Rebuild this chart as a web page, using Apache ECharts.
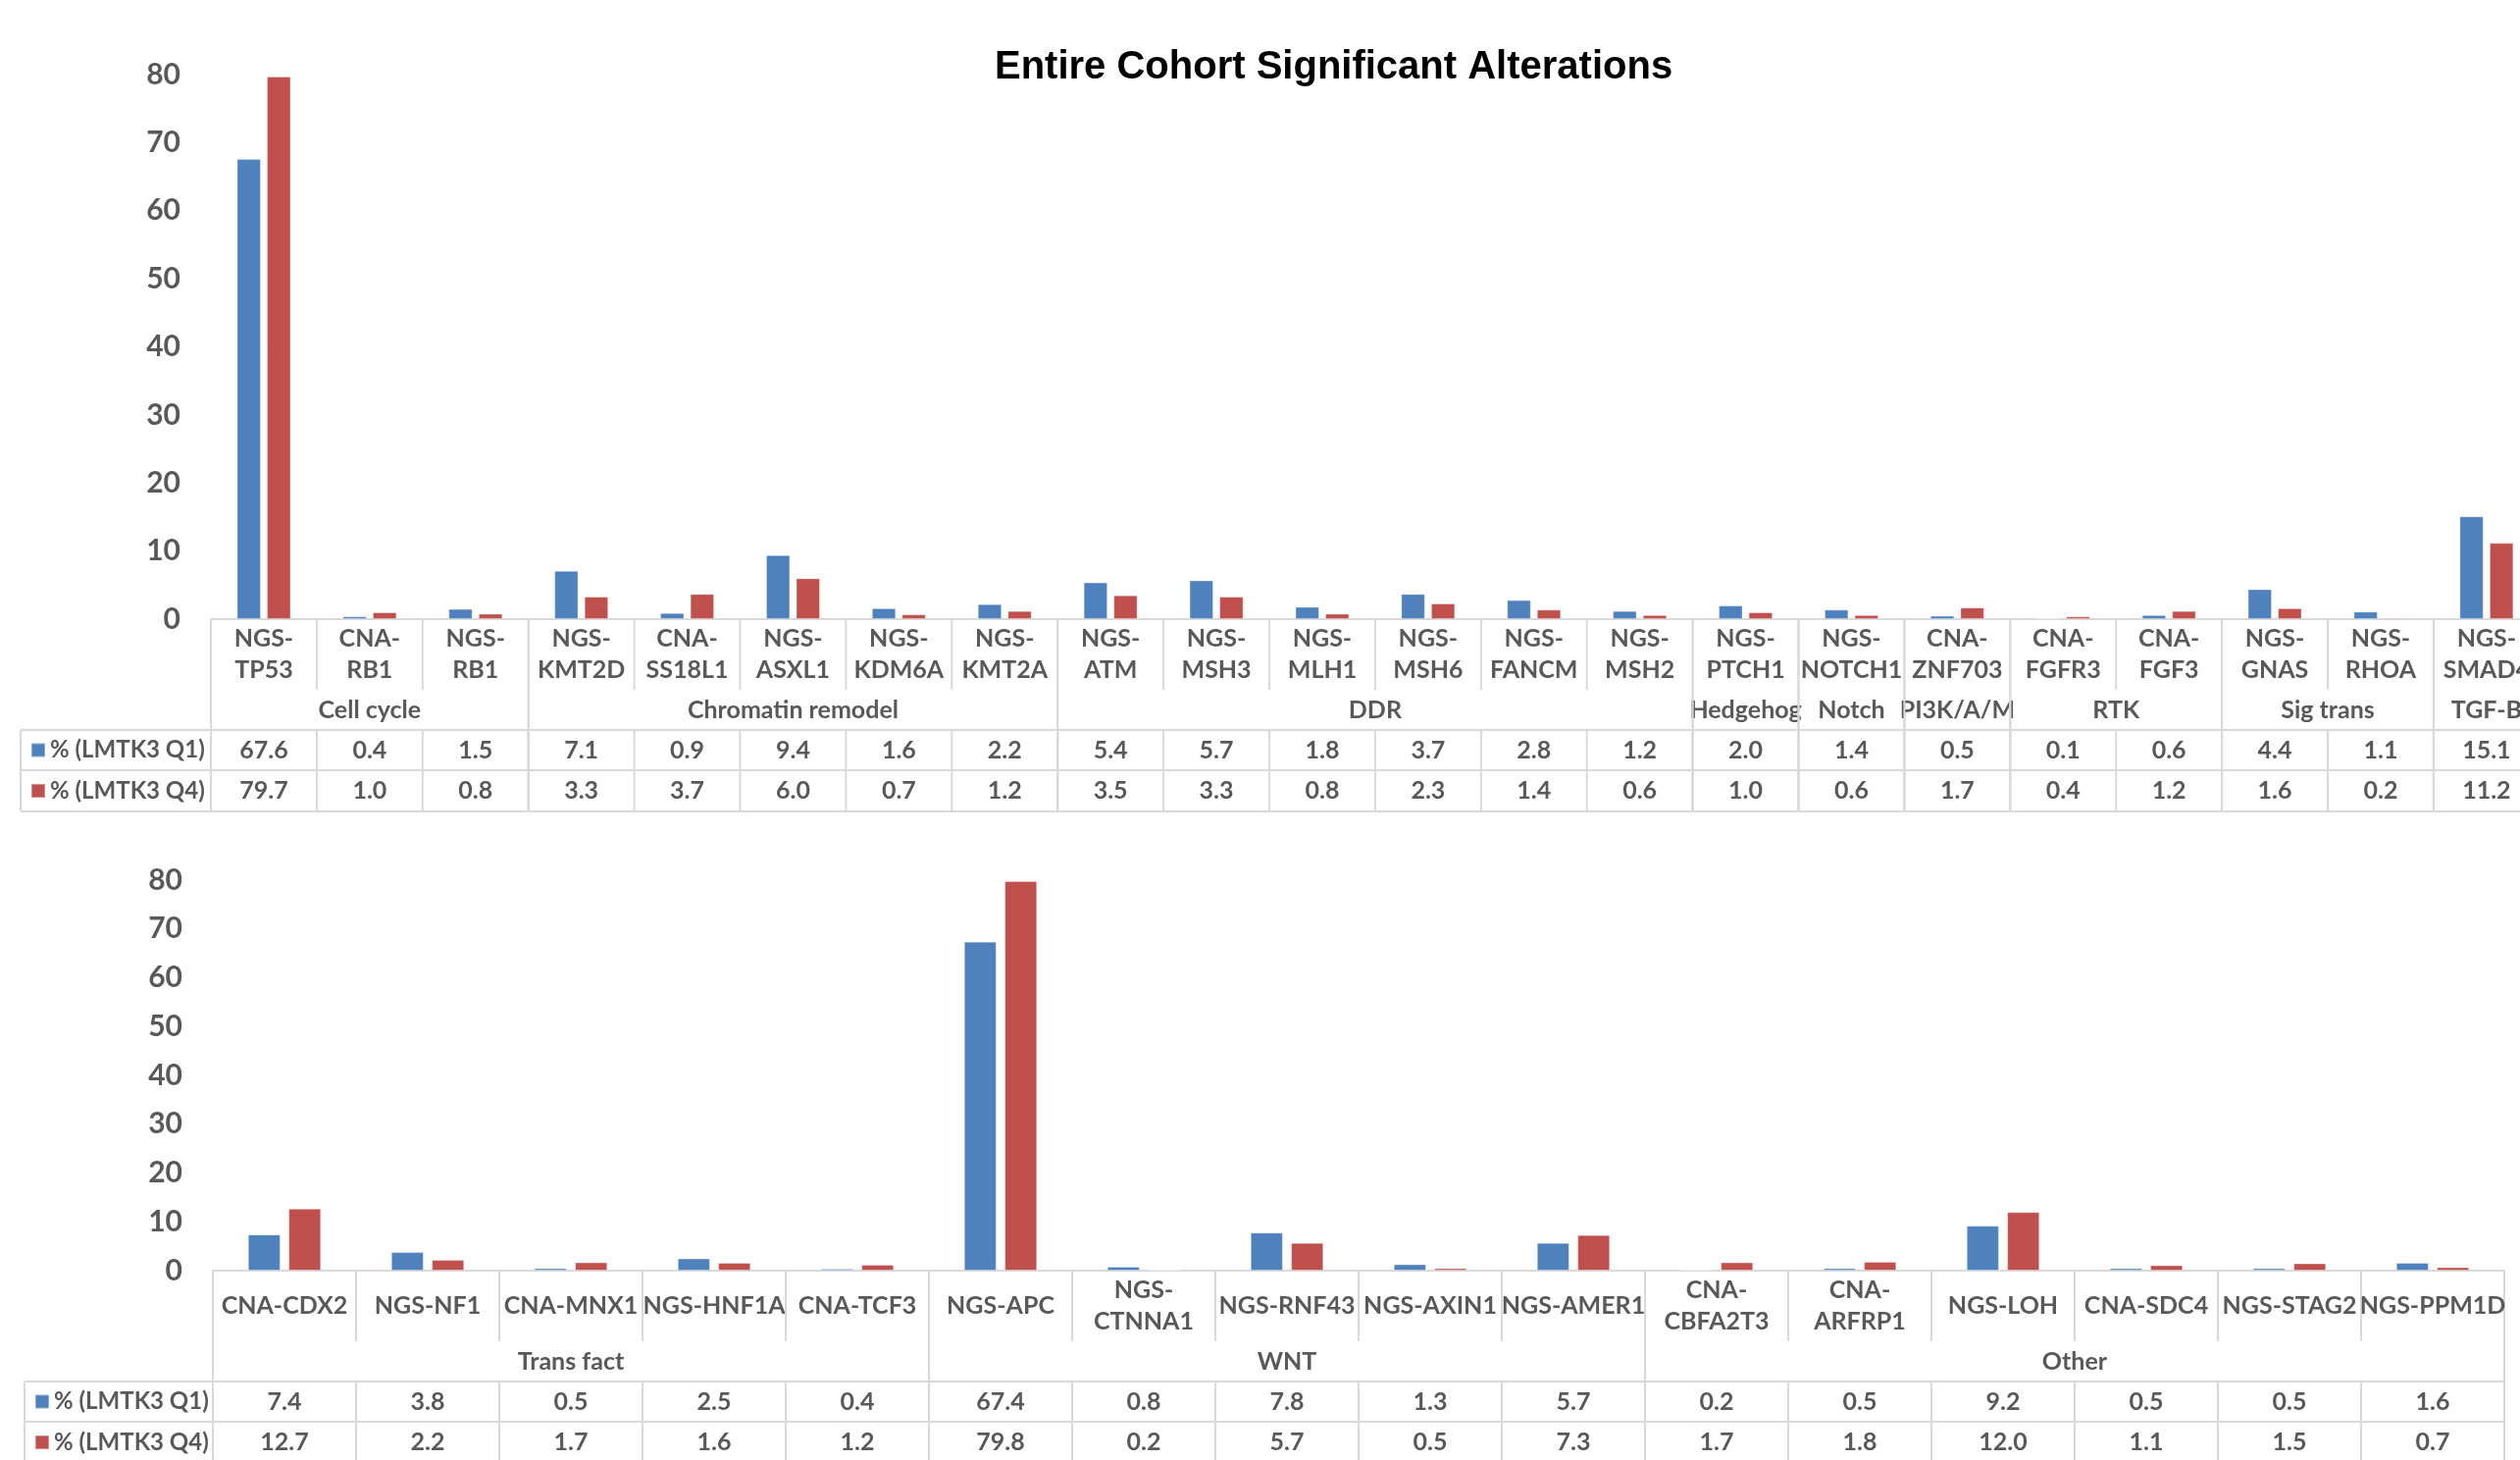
<!DOCTYPE html>
<html>
<head>
<meta charset="utf-8">
<title>Entire Cohort Significant Alterations</title>
<script src="https://cdn.jsdelivr.net/npm/echarts@6/dist/echarts.min.js"></script>
<style>
  html, body { margin: 0; padding: 0; background: #ffffff; overflow: hidden; }
  /* the plot runs slightly past the right edge of the window, so the last column is cropped */
  #chart { width: 2600px; height: 1488px; }
</style>
</head>
<body>
<div id="chart"></div>
<script>
// ---- data -------------------------------------------------------------
const seriesNames = ['% (LMTK3 Q1)', '% (LMTK3 Q4)'];

const topCategories = [
  'NGS-\nTP53', 'CNA-\nRB1', 'NGS-\nRB1', 'NGS-\nKMT2D', 'CNA-\nSS18L1', 'NGS-\nASXL1',
  'NGS-\nKDM6A', 'NGS-\nKMT2A', 'NGS-\nATM', 'NGS-\nMSH3', 'NGS-\nMLH1', 'NGS-\nMSH6',
  'NGS-\nFANCM', 'NGS-\nMSH2', 'NGS-\nPTCH1', 'NGS-\nNOTCH1', 'CNA-\nZNF703', 'CNA-\nFGFR3',
  'CNA-\nFGF3', 'NGS-\nGNAS', 'NGS-\nRHOA', 'NGS-\nSMAD4'
];
const topQ1 = [67.6, 0.4, 1.5, 7.1, 0.9, 9.4, 1.6, 2.2, 5.4, 5.7, 1.8, 3.7, 2.8, 1.2, 2.0, 1.4, 0.5, 0.1, 0.6, 4.4, 1.1, 15.1];
const topQ4 = [79.7, 1.0, 0.8, 3.3, 3.7, 6.0, 0.7, 1.2, 3.5, 3.3, 0.8, 2.3, 1.4, 0.6, 1.0, 0.6, 1.7, 0.4, 1.2, 1.6, 0.2, 11.2];
const topGroupNames = ['Cell cycle', 'Chromatin remodel', 'DDR', 'Hedgehog', 'Notch', 'PI3K/A/M', 'RTK', 'Sig trans', 'TGF-B'];
const topGroupSizes = [3, 5, 6, 1, 1, 1, 2, 2, 1];

const bottomCategories = [
  'CNA-CDX2', 'NGS-NF1', 'CNA-MNX1', 'NGS-HNF1A', 'CNA-TCF3', 'NGS-APC', 'NGS-\nCTNNA1',
  'NGS-RNF43', 'NGS-AXIN1', 'NGS-AMER1', 'CNA-\nCBFA2T3', 'CNA-\nARFRP1', 'NGS-LOH',
  'CNA-SDC4', 'NGS-STAG2', 'NGS-PPM1D'
];
const bottomQ1 = [7.4, 3.8, 0.5, 2.5, 0.4, 67.4, 0.8, 7.8, 1.3, 5.7, 0.2, 0.5, 9.2, 0.5, 0.5, 1.6];
const bottomQ4 = [12.7, 2.2, 1.7, 1.6, 1.2, 79.8, 0.2, 5.7, 0.5, 7.3, 1.7, 1.8, 12.0, 1.1, 1.5, 0.7];
const bottomGroupNames = ['Trans fact', 'WNT', 'Other'];
const bottomGroupSizes = [5, 5, 6];

const yMin = 0, yMax = 80, yStep = 10;

// ---- styling ----------------------------------------------------------
const BLUE = '#4F81BD';
const RED = '#C0504D';
const INK = '#595959';
const RULE = '#D9D9D9';
const FONT = 'Lato, "Open Sans", sans-serif';
const CELL_FONT = 'bold 25px ' + FONT;

// row offsets below the category axis line
const ROW_CAT = 72, ROW_GROUP = 113, ROW_Q1 = 154, ROW_Q4 = 196;

function groupRanges(sizes) {
  const out = [];
  let s = 0;
  sizes.forEach((n, k) => { out.push([s, s + n - 1, k]); s += n; });
  return out;
}
function lastOfGroup(sizes) {
  const set = new Set();
  let s = 0;
  sizes.forEach(n => { s += n; set.add(s - 1); });
  return set;
}
function line(x1, y1, x2, y2) {
  return { type: 'line', silent: true,
    shape: { x1, y1, x2, y2 },
    style: { stroke: RULE, lineWidth: 2 } };
}
function text(str, x, y) {
  return { type: 'text', silent: true,
    style: { text: str, x, y, align: 'center', verticalAlign: 'middle',
      font: CELL_FONT, fill: INK, lineHeight: 32 } };
}

// one column of the data table under each category
function cellSeries(gridIdx, cats, q1, q4, sizes) {
  const ends = lastOfGroup(sizes);
  return {
    type: 'custom', xAxisIndex: gridIdx, yAxisIndex: gridIdx, silent: true, clip: false,
    data: q1.map((v, i) => [i, 0, v, q4[i]]),
    encode: { x: 0, y: 1 },
    renderItem: (params, api) => {
      const i = api.value(0);
      const p = api.coord([i, 0]);
      const w = api.size([1, 0])[0];
      const cx = p[0], ay = p[1], xr = cx + w / 2;
      const kids = [
        text(cats[i], cx, ay + ROW_CAT / 2),
        text(api.value(2).toFixed(1), cx, ay + (ROW_GROUP + ROW_Q1) / 2),
        text(api.value(3).toFixed(1), cx, ay + (ROW_Q1 + ROW_Q4) / 2),
        line(xr, ay + ROW_GROUP, xr, ay + ROW_Q4)
      ];
      if (!ends.has(i)) kids.push(line(xr, ay, xr, ay + ROW_CAT));
      return { type: 'group', children: kids };
    }
  };
}

// group band (pathway names), its borders and the table rules
function groupSeries(gridIdx, names, sizes, legendLeft) {
  return {
    type: 'custom', xAxisIndex: gridIdx, yAxisIndex: gridIdx, silent: true, clip: false,
    data: groupRanges(sizes).map(r => [r[0], 0, r[1], r[2]]),
    encode: { x: 0, y: 1 },
    renderItem: (params, api) => {
      const s = api.value(0), e = api.value(2), k = api.value(3);
      const w = api.size([1, 0])[0];
      const ps = api.coord([s, 0]), pe = api.coord([e, 0]);
      const xl = ps[0] - w / 2, xr = pe[0] + w / 2, ay = ps[1];
      const kids = [
        text(names[k], (xl + xr) / 2, ay + (ROW_CAT + ROW_GROUP) / 2),
        line(xl, ay, xl, ay + ROW_Q4),
        line(xr, ay, xr, ay + ROW_Q4),
        line(xl, ay + ROW_GROUP, xr, ay + ROW_GROUP),
        line(xl, ay + ROW_Q1, xr, ay + ROW_Q1),
        line(xl, ay + ROW_Q4, xr, ay + ROW_Q4)
      ];
      if (params.dataIndex === 0) {
        kids.push(line(legendLeft, ay + ROW_GROUP, xl, ay + ROW_GROUP));
        kids.push(line(legendLeft, ay + ROW_Q1, xl, ay + ROW_Q1));
        kids.push(line(legendLeft, ay + ROW_Q4, xl, ay + ROW_Q4));
        kids.push(line(legendLeft, ay + ROW_GROUP, legendLeft, ay + ROW_Q4));
      }
      return { type: 'group', children: kids };
    }
  };
}

function barSeries(gridIdx, name, data, color) {
  return {
    type: 'bar', name, xAxisIndex: gridIdx, yAxisIndex: gridIdx, data,
    barCategoryGap: '49%', barGap: '25%',
    itemStyle: { color, borderColor: 'rgba(255,255,255,0.35)', borderWidth: 1 },
    emphasis: { disabled: true }
  };
}

function legendItem(name, left, centerY) {
  return {
    data: [name], left, top: centerY - 12, padding: 0,
    icon: 'rect', itemWidth: 14, itemHeight: 14, selectedMode: false,
    textStyle: { fontFamily: FONT, fontWeight: 'bold', fontSize: 24, color: INK, lineHeight: 24 }
  };
}

const yAxisCommon = {
  type: 'value', min: yMin, max: yMax, interval: yStep,
  axisLine: { show: false }, axisTick: { show: false }, splitLine: { show: false },
  axisLabel: { margin: 31, fontFamily: FONT, fontWeight: 'bold', fontSize: 30, color: INK }
};
function xAxisFor(gridIdx, cats) {
  return {
    type: 'category', gridIndex: gridIdx, data: cats,
    axisLine: { lineStyle: { color: RULE, width: 2 } },
    axisTick: { show: false }, axisLabel: { show: false }
  };
}

const chart = echarts.init(document.getElementById('chart'), null, { renderer: 'canvas' });
chart.setOption({
  animation: false,
  backgroundColor: '#ffffff',
  title: {
    text: 'Entire Cohort Significant Alterations',
    left: 1014, top: 49, padding: 0,
    textStyle: { fontFamily: '"Liberation Sans", Arial, sans-serif', fontWeight: 'bold', fontSize: 40, color: '#000000', lineHeight: 40 }
  },
  legend: [
    legendItem(seriesNames[0], 31, 631 + (ROW_GROUP + ROW_Q1) / 2),
    legendItem(seriesNames[1], 31, 631 + (ROW_Q1 + ROW_Q4) / 2),
    legendItem(seriesNames[0], 35, 1295 + (ROW_GROUP + ROW_Q1) / 2),
    legendItem(seriesNames[1], 35, 1295 + (ROW_Q1 + ROW_Q4) / 2)
  ],
  grid: [
    { left: 215, top: 76, width: 22 * 107.9, height: 555 },
    { left: 217, top: 897, width: 16 * 146, height: 398 }
  ],
  xAxis: [xAxisFor(0, topCategories), xAxisFor(1, bottomCategories)],
  yAxis: [Object.assign({ gridIndex: 0 }, yAxisCommon), Object.assign({ gridIndex: 1 }, yAxisCommon)],
  series: [
    barSeries(0, seriesNames[0], topQ1, BLUE),
    barSeries(0, seriesNames[1], topQ4, RED),
    barSeries(1, seriesNames[0], bottomQ1, BLUE),
    barSeries(1, seriesNames[1], bottomQ4, RED),
    groupSeries(0, topGroupNames, topGroupSizes, 21),
    cellSeries(0, topCategories, topQ1, topQ4, topGroupSizes),
    groupSeries(1, bottomGroupNames, bottomGroupSizes, 25),
    cellSeries(1, bottomCategories, bottomQ1, bottomQ4, bottomGroupSizes)
  ]
});
</script>
</body>
</html>
